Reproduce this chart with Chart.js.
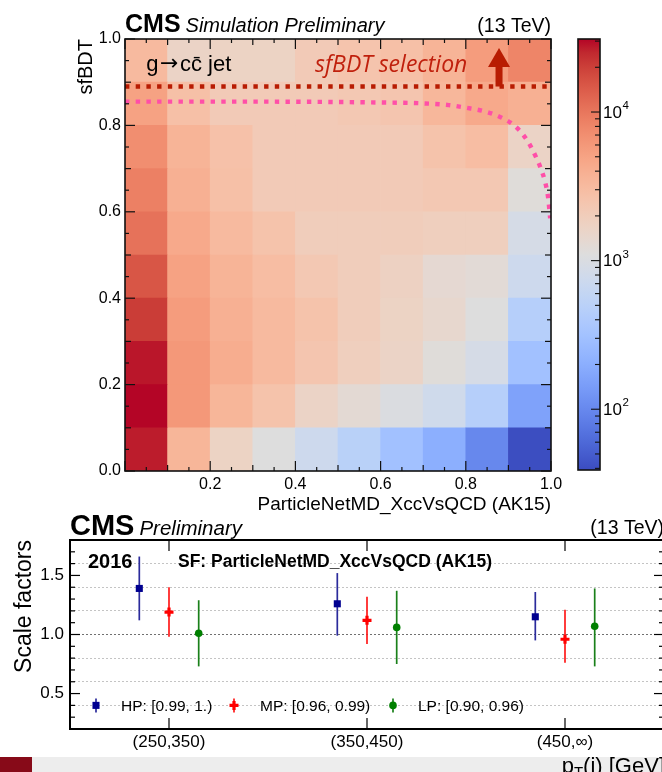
<!DOCTYPE html>
<html><head><meta charset="utf-8">
<script src="https://cdn.jsdelivr.net/npm/chart.js@4.4.1/dist/chart.umd.min.js"></script>
<style>
html,body{margin:0;padding:0;background:#fff;}
body{width:662px;height:772px;overflow:hidden;position:relative;}
canvas{position:absolute;left:0;top:0;}
#strip{position:absolute;left:32px;top:757px;width:630px;height:15px;background:#ededed;}
#block{position:absolute;left:0;top:757px;width:32px;height:15px;background:#870a18;}
</style></head><body>
<div id="strip"></div><div id="block"></div>
<canvas id="heat" width="700" height="772"></canvas>
<canvas id="cbar" width="700" height="772"></canvas>
<canvas id="sf" width="700" height="772"></canvas>
<script>
// ---------------- DATA: 2D histogram (g -> cc jets) ----------------
const xBinEdges = [0.0, 0.1, 0.2, 0.3, 0.4, 0.5, 0.6, 0.7, 0.8, 0.9, 1.0];
const yBinEdges = [0.0, 0.1, 0.2, 0.3, 0.4, 0.5, 0.6, 0.7, 0.8, 0.9, 1.0];
const xTickValues = [0.0, 0.2, 0.4, 0.6, 0.8, 1.0];
const yTickValues = [0.0, 0.2, 0.4, 0.6, 0.8, 1.0];
// counts per sfBDT bin (bottom -> top); columns follow ParticleNetMD_XccVsQCD bins
const sfbdt_0p0_0p1 = [27000, 3500, 1690, 1100, 735, 490, 310, 205, 99, 40];
const sfbdt_0p1_0p2 = [30900, 6000, 3500, 2610, 1640, 1300, 1030, 785, 460, 158];
const sfbdt_0p2_0p3 = [28000, 6000, 4170, 3190, 2440, 1870, 1640, 1170, 900, 310];
const sfbdt_0p3_0p4 = [20700, 5600, 3900, 3190, 2610, 2000, 1690, 1430, 1100, 460];
const sfbdt_0p4_0p5 = [15300, 5090, 3650, 2990, 2290, 2000, 1760, 1340, 1250, 735];
const sfbdt_0p5_0p6 = [10600, 4460, 3190, 2610, 2000, 2000, 2000, 1870, 1870, 900];
const sfbdt_0p6_0p7 = [8700, 3900, 2790, 2140, 2140, 2140, 2140, 2290, 2290, 1170];
const sfbdt_0p7_0p8 = [7110, 3650, 2700, 2140, 2140, 2140, 2140, 2610, 2990, 1640];
const sfbdt_0p8_0p9 = [5090, 2790, 2140, 2140, 2140, 2290, 2440, 3410, 4460, 3900];
const sfbdt_0p9_1p0 = [3190, 1640, 1690, 1690, 2140, 2530, 2790, 3650, 5630, 8130];
const zRange = [39, 31000];
const colorbarPowers = [2, 3, 4];

// overlay annotations
const sfbdtCut = 0.89;
const pnetCurveX = [0.0, 0.3, 0.6, 0.70, 0.76, 0.80, 0.85, 0.888, 0.915, 0.935, 0.952, 0.966, 0.977, 0.986, 0.993, 0.998];
const pnetCurveY = [0.855, 0.855, 0.853, 0.851, 0.847, 0.841, 0.831, 0.816, 0.799, 0.778, 0.752, 0.724, 0.698, 0.670, 0.635, 0.585];

// ---------------- DATA: scale factors ----------------
const ptBins = ['(250,350)', '(350,450)', '(450,\u221e)'];
const hpSF = [1.39, 1.26, 1.15], hpUp = [0.27, 0.26, 0.21], hpDn = [0.27, 0.27, 0.20];
const mpSF = [1.19, 1.12, 0.96], mpUp = [0.21, 0.20, 0.25], mpDn = [0.21, 0.20, 0.20];
const lpSF = [1.01, 1.06, 1.07], lpUp = [0.28, 0.31, 0.32], lpDn = [0.28, 0.31, 0.34];
const sfYTicks = [0.5, 1.0, 1.5];

// ---------------- helpers ----------------
const FONT = '"Liberation Sans", Arial, Helvetica, sans-serif';
const coolwarm = [[59,76,192],[68,90,204],[77,104,215],[87,117,225],[98,130,234],[108,142,241],[119,154,247],[130,165,251],[141,176,254],[152,185,255],[163,194,255],[174,201,253],[184,208,249],[194,213,244],[204,217,238],[213,219,230],[221,221,221],[229,216,209],[236,211,197],[241,204,185],[245,196,173],[247,187,160],[247,177,148],[247,166,135],[244,154,123],[241,141,111],[236,127,99],[229,112,88],[222,96,77],[213,80,66],[203,62,56],[192,40,47],[180,4,38]];
function cmap(t){
  t = Math.max(0, Math.min(1, t));
  const n = coolwarm.length - 1, f = t * n, i = Math.min(Math.floor(f), n - 1), u = f - i;
  const a = coolwarm[i], b = coolwarm[i + 1];
  return 'rgb(' + [0,1,2].map(k => Math.round(a[k] + (b[k] - a[k]) * u)).join(',') + ')';
}
function colorFor(v){
  const l0 = Math.log10(zRange[0]), l1 = Math.log10(zRange[1]);
  return cmap((Math.log10(v) - l0) / (l1 - l0));
}
function seg(ctx, x1, y1, x2, y2){ ctx.beginPath(); ctx.moveTo(x1, y1); ctx.lineTo(x2, y2); ctx.stroke(); }

// ---------------- heatmap chart ----------------
const rows = [sfbdt_0p0_0p1, sfbdt_0p1_0p2, sfbdt_0p2_0p3, sfbdt_0p3_0p4, sfbdt_0p4_0p5,
              sfbdt_0p5_0p6, sfbdt_0p6_0p7, sfbdt_0p7_0p8, sfbdt_0p8_0p9, sfbdt_0p9_1p0];
const xBinLabels = xBinEdges.slice(0, -1).map((e, i) => e + '-' + xBinEdges[i + 1]);
const heatDatasets = rows.map((row, r) => ({
  type: 'bar', xAxisID: 'x', yAxisID: 'y', order: 5, grouped: false,
  data: row.map(() => [yBinEdges[r], yBinEdges[r + 1]]),
  backgroundColor: row.map(colorFor), borderWidth: 0,
  barPercentage: 1, categoryPercentage: 1
}));
const lineDatasets = [
  { type: 'line', xAxisID: 'xl', yAxisID: 'y', order: 1,
    data: [{x: 0, y: sfbdtCut}, {x: 1, y: sfbdtCut}],
    borderColor: '#b81c02', borderWidth: 4.4, borderDash: [4.4, 6.3], borderCapStyle: 'butt',
    pointRadius: 0, fill: false },
  { type: 'line', xAxisID: 'xl', yAxisID: 'y', order: 1,
    data: pnetCurveX.map((x, i) => ({x, y: pnetCurveY[i]})),
    borderColor: '#ff4fa8', borderWidth: 4.4, borderDash: [4.4, 6.3], borderCapStyle: 'butt',
    cubicInterpolationMode: 'monotone', pointRadius: 0, fill: false }
];

const heatDecor = {
  id: 'heatDecor',
  afterDatasetsDraw(chart){
    const {ctx, scales: {xl, y}} = chart;
    ctx.save();
    ctx.textAlign = 'left'; ctx.textBaseline = 'alphabetic';
    ctx.fillStyle = '#000';
    let tx = xl.getPixelForValue(0.05);
    const ty = y.getPixelForValue(0.925);
    ctx.font = '22px ' + FONT; ctx.fillText('g', tx, ty); tx += ctx.measureText('g').width + 1.5;
    ctx.font = '22px "DejaVu Sans", ' + FONT; ctx.fillText('\u2192', tx, ty - 1); tx += ctx.measureText('\u2192').width + 1.5;
    ctx.font = '22px ' + FONT; ctx.fillText('cc\u0304 jet', tx, ty);
    ctx.fillStyle = '#c0200d'; ctx.font = 'italic 23px "Open Sans", ' + FONT;
    ctx.fillText('sfBDT selection', xl.getPixelForValue(0.446), y.getPixelForValue(0.924));
    // arrow
    const ax = xl.getPixelForValue(0.878), yb = y.getPixelForValue(sfbdtCut), yt = y.getPixelForValue(0.979);
    ctx.fillStyle = '#b81c02';
    ctx.fillRect(ax - 3.5, yt + 18, 7, yb - yt - 18);
    ctx.beginPath(); ctx.moveTo(ax - 11, yt + 19); ctx.lineTo(ax + 11, yt + 19); ctx.lineTo(ax, yt); ctx.closePath(); ctx.fill();
    ctx.restore();
  },
  afterDraw(chart){
    const {ctx, chartArea: {left, right, top, bottom}, scales: {xl, y}} = chart;
    ctx.save();
    ctx.strokeStyle = '#111'; ctx.lineWidth = 1.2;
    for (let k = 0; k <= 20; k++) {
      const v = k / 20, len = k % 4 === 0 ? 10 : (k % 2 === 0 ? 6 : 4);
      const px = xl.getPixelForValue(v), py = y.getPixelForValue(v);
      seg(ctx, px, bottom, px, bottom - len); seg(ctx, px, top, px, top + len);
      seg(ctx, left, py, left + len, py); seg(ctx, right, py, right - len, py);
    }
    ctx.lineWidth = 1.6;
    ctx.strokeRect(left, top, right - left, bottom - top);
    // header
    ctx.fillStyle = '#000'; ctx.textBaseline = 'alphabetic'; ctx.textAlign = 'left';
    ctx.font = 'bold 25px ' + FONT;
    ctx.fillText('CMS', left, 32);
    const w = ctx.measureText('CMS').width;
    ctx.font = 'italic 20px ' + FONT;
    ctx.fillText('Simulation Preliminary', left + w + 5, 32);
    ctx.textAlign = 'right'; ctx.font = '19.5px ' + FONT;
    ctx.fillText('(13 TeV)', right, 32);
    ctx.restore();
  }
};

new Chart(document.getElementById('heat'), {
  type: 'bar',
  data: { labels: xBinLabels, datasets: [...lineDatasets, ...heatDatasets] },
  options: {
    responsive: false, animation: false, events: [],
    layout: { padding: { left: 0, top: 39, right: 149, bottom: 252 } },
    plugins: { legend: { display: false }, tooltip: { enabled: false } },
    scales: {
      x: { type: 'category', display: false, offset: true },
      xl: { type: 'linear', position: 'bottom', min: 0, max: 1, offset: false,
        afterBuildTicks: s => { s.ticks = xTickValues.map(v => ({value: v})); },
        ticks: { callback: v => v === 0 ? '' : v.toFixed(1), color: '#000', font: { family: FONT, size: 16 }, padding: 4, autoSkip: false, maxRotation: 0 },
        grid: { display: false, drawTicks: false, offset: false }, border: { display: false },
        title: { display: true, text: 'ParticleNetMD_XccVsQCD (AK15)', align: 'end', color: '#000', font: { family: FONT, size: 19 }, padding: { top: 0, bottom: 4 } },
        afterFit: s => { s.height = 49; } },
      y: { type: 'linear', min: 0, max: 1,
        afterBuildTicks: s => { s.ticks = yTickValues.map(v => ({value: v})); },
        ticks: { callback: v => v.toFixed(1), color: '#000', font: { family: FONT, size: 16 }, padding: 4, autoSkip: false },
        grid: { display: false, drawTicks: false }, border: { display: false },
        title: { display: true, text: 'sfBDT', align: 'end', color: '#000', font: { family: FONT, size: 20 }, padding: { top: 74, bottom: 0 } },
        afterFit: s => { s.width = 125; } }
    }
  },
  plugins: [heatDecor]
});

// ---------------- colour bar ----------------
const cbarDecor = {
  id: 'cbarDecor',
  afterDraw(chart){
    const {ctx, chartArea: {left, right, top, bottom}, scales: {y}} = chart;
    ctx.save();
    ctx.strokeStyle = '#111'; ctx.lineWidth = 1.1;
    for (let p = 1; p <= 4; p++) for (let m = 1; m <= 9; m++) {
      const v = m * Math.pow(10, p);
      if (v < zRange[0] || v > zRange[1]) continue;
      const py = y.getPixelForValue(v), len = m === 1 ? 9 : 5;
      seg(ctx, right, py, right - len, py);
    }
    ctx.lineWidth = 1.6; ctx.strokeRect(left, top, right - left, bottom - top);
    ctx.fillStyle = '#000'; ctx.textAlign = 'left'; ctx.textBaseline = 'middle';
    colorbarPowers.forEach(p => {
      const py = y.getPixelForValue(Math.pow(10, p));
      ctx.font = '17px ' + FONT; ctx.fillText('10', right + 3, py + 1);
      const w = ctx.measureText('10').width;
      ctx.font = '11.5px ' + FONT; ctx.fillText(String(p), right + 3 + w + 0.5, py - 6);
    });
    ctx.restore();
  }
};
new Chart(document.getElementById('cbar'), {
  type: 'bar',
  data: { labels: ['z'], datasets: [{
    data: [zRange.slice()], borderWidth: 0, barPercentage: 1, categoryPercentage: 1,
    backgroundColor: (c) => {
      const ca = c.chart.chartArea; if (!ca) return '#ddd';
      const g = c.chart.ctx.createLinearGradient(0, ca.bottom, 0, ca.top);
      coolwarm.forEach((col, i) => g.addColorStop(i / (coolwarm.length - 1), 'rgb(' + col.join(',') + ')'));
      return g;
    } }] },
  options: {
    responsive: false, animation: false, events: [],
    layout: { padding: { left: 578, right: 38, top: 39, bottom: 302 } },
    plugins: { legend: { display: false }, tooltip: { enabled: false } },
    scales: {
      x: { display: false },
      y: { type: 'logarithmic', position: 'right', min: zRange[0], max: zRange[1],
        ticks: { display: false }, grid: { display: false, drawTicks: false }, border: { display: false },
        afterFit: s => { s.width = 62; } }
    }
  },
  plugins: [cbarDecor]
});

// ---------------- scale factor chart ----------------
const sfDecor = {
  id: 'sfDecor',
  beforeDatasetsDraw(chart){
    const {ctx, scales: {x, y}} = chart;
    ctx.save(); ctx.lineWidth = 1.7;
    chart.data.datasets.forEach(ds => {
      ctx.strokeStyle = ds.errColor;
      ds.data.forEach((p, i) => {
        const px = x.getPixelForValue(p.x);
        seg(ctx, px, y.getPixelForValue(p.y + ds.errUp[i]), px, y.getPixelForValue(p.y - ds.errDn[i]));
      });
    });
    ctx.restore();
  },
  afterDraw(chart){
    const {ctx, chartArea: {left, right, top, bottom}, scales: {x, y}} = chart;
    ctx.save();
    ctx.strokeStyle = '#000'; ctx.lineWidth = 1.2;
    for (let k = 2; k <= 18; k++) {
      const py = y.getPixelForValue(k / 10), len = k % 5 === 0 ? 10 : 5;
      seg(ctx, left, py, left + len, py); seg(ctx, right, py, right - len, py);
    }
    ptBins.forEach((_, i) => {
      const px = x.getPixelForValue(i);
      seg(ctx, px, bottom, px, bottom - 11); seg(ctx, px, top, px, top + 11);
    });
    ctx.lineWidth = 2; ctx.strokeRect(left, top, right - left, bottom - top);
    // legend
    const ly = y.getPixelForValue(0.4);
    const items = [
      {dx: 26, tx: 51, ds: chart.data.datasets[0], text: 'HP: [0.99, 1.)'},
      {dx: 164, tx: 190, ds: chart.data.datasets[1], text: 'MP: [0.96, 0.99)'},
      {dx: 323, tx: 348, ds: chart.data.datasets[2], text: 'LP: [0.90, 0.96)'}
    ];
    items.forEach(it => {
      const mx = left + it.dx;
      ctx.strokeStyle = it.ds.errColor; ctx.lineWidth = 1.7; seg(ctx, mx, ly - 7, mx, ly + 7);
      ctx.fillStyle = it.ds.backgroundColor; ctx.strokeStyle = it.ds.borderColor;
      ctx.lineWidth = it.ds.borderWidth;
      Chart.helpers.drawPoint(ctx, {pointStyle: it.ds.pointStyle, radius: it.ds.pointRadius, borderWidth: it.ds.borderWidth, rotation: 0}, mx, ly);
      ctx.fillStyle = '#000'; ctx.font = '15.5px ' + FONT; ctx.textAlign = 'left'; ctx.textBaseline = 'middle';
      ctx.fillText(it.text, left + it.tx, ly + 1);
    });
    // labels in frame
    ctx.fillStyle = '#000'; ctx.textBaseline = 'middle'; ctx.textAlign = 'left';
    ctx.font = 'bold 20px ' + FONT; ctx.fillText('2016', left + 18, top + 22);
    ctx.font = 'bold 17.5px ' + FONT; ctx.fillText('SF: ParticleNetMD_XccVsQCD (AK15)', left + 108, top + 22);
    // header
    ctx.textBaseline = 'alphabetic';
    ctx.font = 'bold 29px ' + FONT; ctx.fillText('CMS', left, top - 5);
    const w = ctx.measureText('CMS').width;
    ctx.font = 'italic 20.5px ' + FONT; ctx.fillText('Preliminary', left + w + 5, top - 5);
    ctx.textAlign = 'right'; ctx.font = '19.5px ' + FONT; ctx.fillText('(13 TeV)', right, top - 6);
    // x-axis title p_T(j) [GeV]
    ctx.textAlign = 'left';
    ctx.font = '22px ' + FONT; const w1 = ctx.measureText('p').width; const w3 = ctx.measureText('(j) [GeV]').width;
    ctx.font = '15px ' + FONT; const w2 = ctx.measureText('T').width;
    const x0 = right + 1 - (w1 + w2 + w3), yb = 773;
    ctx.font = '22px ' + FONT; ctx.fillText('p', x0, yb);
    ctx.font = '15px ' + FONT; ctx.fillText('T', x0 + w1, yb + 4);
    ctx.font = '22px ' + FONT; ctx.fillText('(j) [GeV]', x0 + w1 + w2, yb);
    ctx.restore();
  }
};
const offHP = -0.15, offMP = 0, offLP = 0.15;
new Chart(document.getElementById('sf'), {
  type: 'scatter',
  data: { datasets: [
    { label: 'HP', data: hpSF.map((v, i) => ({x: i + offHP, y: v})), errUp: hpUp, errDn: hpDn, errColor: '#2b2b9c',
      pointStyle: 'rect', pointRadius: 5, backgroundColor: '#000090', borderColor: '#000090', borderWidth: 0 },
    { label: 'MP', data: mpSF.map((v, i) => ({x: i + offMP, y: v})), errUp: mpUp, errDn: mpDn, errColor: '#ff1a1a',
      pointStyle: 'cross', pointRadius: 4.5, backgroundColor: '#ff0000', borderColor: '#ff0000', borderWidth: 3.2 },
    { label: 'LP', data: lpSF.map((v, i) => ({x: i + offLP, y: v})), errUp: lpUp, errDn: lpDn, errColor: '#1a801a',
      pointStyle: 'circle', pointRadius: 3.8, backgroundColor: '#008000', borderColor: '#008000', borderWidth: 0 }
  ] },
  options: {
    responsive: false, animation: false, events: [],
    layout: { padding: { left: 0, top: 540, right: 36, bottom: 0 } },
    plugins: { legend: { display: false }, tooltip: { enabled: false } },
    scales: {
      x: { type: 'linear', min: -0.5, max: 2.5,
        afterBuildTicks: s => { s.ticks = ptBins.map((_, i) => ({value: i})); },
        ticks: { callback: v => ptBins[v], color: '#000', font: { family: FONT, size: 17 }, padding: 3, autoSkip: false, maxRotation: 0 },
        grid: { display: false, drawTicks: false }, border: { display: false },
        afterFit: s => { s.height = 43; } },
      y: { type: 'linear', min: 0.2, max: 1.8,
        afterBuildTicks: s => { const t = []; for (let k = 2; k <= 18; k++) t.push({value: k / 10}); s.ticks = t; },
        ticks: { callback: v => sfYTicks.some(t => Math.abs(t - v) < 1e-6) ? v.toFixed(1) : '', color: '#000', font: { family: FONT, size: 17 }, padding: 6, autoSkip: false },
        grid: { drawTicks: false, lineWidth: 1,
          color: c => { const k = Math.round(c.tick.value * 10); if (k === 10) return '#707070'; return (k % 2 === 0 && k > 2 && k < 18) ? '#c4c4c4' : 'rgba(0,0,0,0)'; } },
        border: { display: false, dash: [2, 2] },
        title: { display: true, text: 'Scale factors', align: 'end', color: '#000', font: { family: FONT, size: 23 }, padding: { top: 11, bottom: 0 } },
        afterFit: s => { s.width = 70; } }
    }
  },
  plugins: [sfDecor]
});
</script></body></html>
